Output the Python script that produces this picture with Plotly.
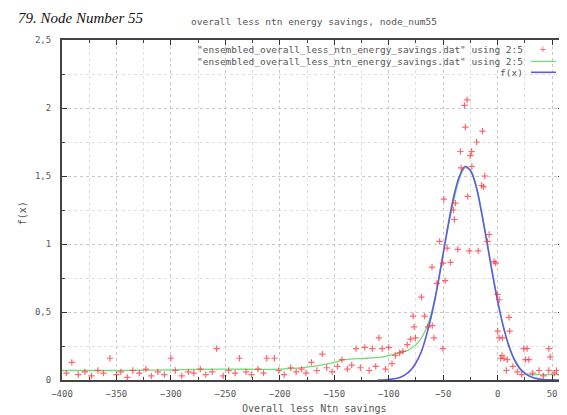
import plotly.graph_objects as go

# red points: "ensembled_overall_less_ntn_energy_savings.dat" using 2:5
pts_x = [-396, -391, -385, -379, -373, -367, -362, -356, -350, -346, -340, -335, -329, -323,
         -318, -312, -306, -300, -296, -290, -284, -279, -273, -268, -262, -258, -252, -247,
         -241, -237, -231, -226, -220, -215, -212, -205, -201, -196, -190, -185, -180, -176,
         -171, -166, -161, -157, -152, -147, -143, -138, -134, -130, -126, -122, -118, -115,
         -112, -109, -106, -103, -100, -97, -94, -90, -87, -83, -80,
         -77.6, -76.7, -75.5, -70, -67, -64, -60.3, -60, -58.5, -55.7, -53.3, -50.3, -50.3,
         -49.4, -48.2, -46.4, -43.3, -40.6, -39.7, -38.8, -36.6, -34.2, -33.6, -30.5, -29.6,
         -28.1, -27.5, -26, -25.1, -23.9, -23.7, -19.3, -17.8, -14.7, -13.9, -12.9, -11.8,
         -9.3, -7.8, -3.3, -1.8, -0.2, 0, 1.4, 1.4, 2.8, 4, 4.4, 5.8, 8, 8.8, 10.4, 11,
         14, 18, 22, 24, 25.6, 27, 28.6, 32, 38, 42, 47, 47, 48.3, 52, 54, 58]
pts_y = [0.05, 0.13, 0.04, 0.06, 0.03, 0.07, 0.05, 0.16, 0.04, 0.06, 0.02, 0.07, 0.05, 0.08,
         0.03, 0.06, 0.04, 0.16, 0.07, 0.03, 0.06, 0.05, 0.08, 0.04, 0.06, 0.23, 0.03, 0.07,
         0.05, 0.16, 0.06, 0.04, 0.08, 0.05, 0.16, 0.16, 0.07, 0.04, 0.09, 0.06, 0.08, 0.05,
         0.13, 0.07, 0.19, 0.09, 0.06, 0.10, 0.15, 0.08, 0.11, 0.23, 0.09, 0.24, 0.07, 0.23,
         0.10, 0.31, 0.23, 0.08, 0.24, 0.12, 0.18, 0.20, 0.21, 0.26, 0.30,
         0.47, 0.39, 0.31, 0.61, 0.47, 0.39, 0.83, 0.40, 0.31, 0.71, 1.02, 0.86, 0.23,
         1.33, 0.73, 0.97, 0.865, 1.25, 1.18, 1.30, 0.96, 1.68, 1.56, 2.02, 1.86,
         2.06, 1.35, 0.95, 1.65, 1.68, 1.57, 1.75, 0.95, 1.43, 1.83, 1.42, 1.50,
         1.02, 1.07, 0.87, 0.86, 0.63, 0.36, 0.59, 0.31, 0.16, 0.18, 0.31, 0.16, 0.07, 0.15, 0.46, 0.36,
         0.10, 0.06, 0.04, 0.23, 0.15, 0.23, 0.15, 0.05, 0.07, 0.03, 0.07, 0.23, 0.17, 0.05, 0.07, 0.04]

# green line
line_x = [-400, -350, -300, -250, -200, -170, -150, -140, -120, -105, -95, -85, -80, -75, -70,
          -65, -60, -55, -50, -45, -40, -35, -30, -25, -20, -15, -10, -5, 0, 5, 10, 15, 20,
          25, 30, 40, 50, 60]
line_y = [0.07, 0.07, 0.075, 0.08, 0.08, 0.10, 0.13, 0.15, 0.16, 0.17, 0.19, 0.21, 0.23, 0.26,
          0.31, 0.39, 0.52, 0.71, 0.93, 1.14, 1.33, 1.48, 1.56, 1.54, 1.44, 1.25, 1.03, 0.80,
          0.58, 0.40, 0.25, 0.15, 0.08, 0.05, 0.04, 0.04, 0.04, 0.04]

# blue line f(x)
fx_x = [-110, -100, -95, -90, -85, -80, -75, -70, -65, -60, -55, -50, -45, -40, -35, -30, -25,
        -20, -15, -10, -5, 0, 5, 10, 15, 20, 25, 30, 35, 40, 50, 60]
fx_y = [0.0, 0.004, 0.009, 0.019, 0.038, 0.071, 0.127, 0.21, 0.34, 0.50, 0.70, 0.93, 1.16,
        1.36, 1.50, 1.57, 1.54, 1.43, 1.24, 1.02, 0.79, 0.58, 0.40, 0.26, 0.157, 0.09, 0.049,
        0.025, 0.012, 0.005, 0.001, 0.0]

y_ticks = [0, 0.5, 1, 1.5, 2, 2.5]
y_ticklabels = ["0", "0,5", "1", "1,5", "2", "2,5"]
x_ticks = [-400, -350, -300, -250, -200, -150, -100, -50, 0, 50]

legend_labels = ['"ensembled_overall_less_ntn_energy_savings.dat" using 2:5',
                 '"ensembled_overall_less_ntn_energy_savings.dat" using 2:5',
                 'f(x)']

RED = "rgba(255,50,60,0.75)"
GREEN = "#78d878"
BLUE = "#5c5ce6"
MONO = "DejaVu Sans Mono"
GREY = "#555"

fig = go.Figure()
fig.add_trace(go.Scatter(x=line_x, y=line_y, mode="lines",
                         line=dict(color=GREEN, width=1.3, shape="spline"), showlegend=False))
fig.add_trace(go.Scatter(x=fx_x, y=fx_y, mode="lines",
                         line=dict(color=BLUE, width=1.6, shape="spline"), showlegend=False))
fig.add_trace(go.Scatter(x=pts_x, y=pts_y, mode="markers",
                         marker=dict(symbol="cross-thin", size=4.5, line=dict(color=RED, width=1.2)),
                         showlegend=False))

axis_common = dict(showline=True, linecolor="#444", linewidth=2, mirror="allticks",
                   ticks="inside", ticklen=5, tickcolor="#333", showgrid=True,
                   gridcolor="#c8c8c8", griddash="dot", gridwidth=1, zeroline=False,
                   tickfont=dict(family=MONO, size=9, color=GREY))

fig.update_xaxes(range=[-400, 60], tickvals=x_ticks, ticklabelstandoff=4,
                 minor=dict(dtick=25, showgrid=True, gridcolor="#e0e0e0", griddash="dot",
                            ticks="inside", ticklen=3, tickcolor="#444"),
                 **axis_common)
fig.update_yaxes(range=[0, 2.5], tickvals=y_ticks, ticktext=y_ticklabels, ticklabelstandoff=7,
                 minor=dict(dtick=0.25, showgrid=True, gridcolor="#e0e0e0", griddash="dot",
                            ticks="inside", ticklen=3, tickcolor="#444"),
                 **axis_common)

ann = [
    dict(text="overall less ntn energy savings, node_num55", x=0.503, y=1.053,
         font=dict(family=MONO, size=9.5, color=GREY)),
    dict(text="Overall less Ntn savings", x=0.503, y=-0.085,
         font=dict(family=MONO, size=10, color=GREY)),
    dict(text="f(x)", x=-0.0795, y=0.491, textangle=-90,
         font=dict(family=MONO, size=10, color=GREY)),
    dict(text="<i>79. Node Number 55</i>", x=-0.0915, y=1.094, xanchor="left", yanchor="top",
         font=dict(family="Liberation Serif", size=15, color="#111")),
]
leg_y = [0.971, 0.937, 0.905]
for lab, ly in zip(legend_labels, leg_y):
    ann.append(dict(text=lab, x=0.9245, y=ly, xanchor="right",
                    font=dict(family=MONO, size=9.5, color=GREY)))
ann.append(dict(text="+", x=0.960, y=leg_y[0], font=dict(family=MONO, size=10, color=RED)))
for a in ann:
    a.setdefault("xanchor", "center")
    a.setdefault("yanchor", "middle")
    a.update(xref="paper", yref="paper", showarrow=False)

shapes = [
    dict(type="line", xref="paper", yref="paper", x0=0.936, x1=0.986, y0=leg_y[1], y1=leg_y[1],
         line=dict(color=GREEN, width=1.3)),
    dict(type="line", xref="paper", yref="paper", x0=0.936, x1=0.986, y0=leg_y[2], y1=leg_y[2],
         line=dict(color=BLUE, width=1.6)),
]

# page body has an 8px margin, so the figure is drawn 8px smaller
fig.update_layout(width=559, height=407, margin=dict(l=54, r=2, t=32, b=35),
                  paper_bgcolor="white", plot_bgcolor="white",
                  annotations=ann, shapes=shapes, showlegend=False)

fig.write_html("out.html")
